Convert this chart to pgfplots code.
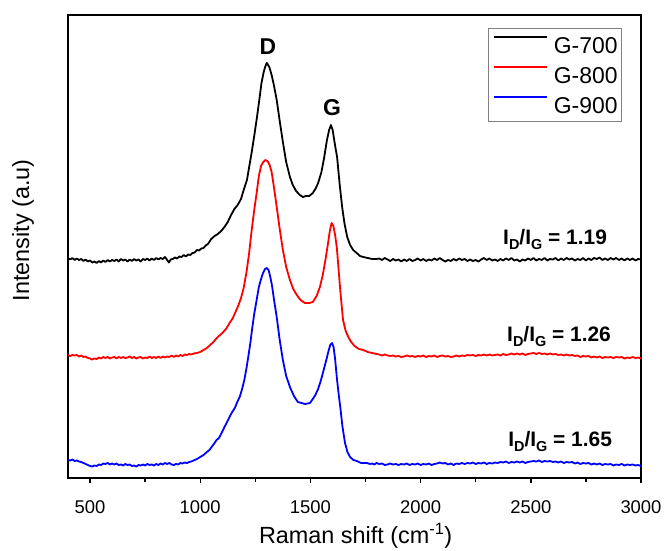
\documentclass[border=0pt]{standalone}
\usepackage{fontspec}
\setmainfont{Liberation Sans}
\usepackage{pgfplots}
\pgfplotsset{compat=1.18}
\definecolor{leggray}{RGB}{128,128,128}
\newcommand\sub[1]{\raisebox{-5bp}{\fontsize{14.5}{14.5}\selectfont #1}}
\begin{document}
\begin{tikzpicture}
\begin{axis}[
  scale only axis, width=573bp, height=463bp,
  xmin=400, xmax=3000, ymin=0, ymax=463,
  axis line style={line width=1.8bp},
  xtick={500,1000,1500,2000,2500,3000},
  xticklabels={500,1000,1500,2000,2500,3000},
  minor x tick num=1,
  xtick pos=bottom, tick align=outside,
  ytick=\empty,
  major tick length=5bp, minor tick length=4bp,
  every tick/.style={black, line width=1.4bp},
  xticklabel style={font=\fontsize{18.5}{20}\selectfont, anchor=base, yshift=-30bp},
  xlabel={Raman shift (cm\textsuperscript{-1})},
  ylabel={Intensity (a.u)},
  xlabel style={font=\fontsize{23.5}{26}\selectfont, at={(axis description cs:0.502,-0.1404)}, anchor=base},
  ylabel style={font=\fontsize{23.5}{26}\selectfont, at={(axis description cs:-0.0785,0.535)}, anchor=center},
  legend style={at={(axis description cs:0.9668,0.972)}, anchor=north east,
    draw=leggray, line width=0.8bp, font=\fontsize{23}{23}\selectfont,
    inner xsep=4bp, inner ysep=8bp, row sep=12.5bp, column sep=6bp,
    nodes={inner sep=0pt, text height=16.5bp, text depth=0bp}, cells={anchor=west}},
  legend image code/.code={\draw[#1,line width=2bp] (0bp,8.25bp) -- (53bp,8.25bp);},
  every axis plot/.append style={line width=1.8bp, line join=round},
]
\coordinate (ll) at (rel axis cs:0,0);
\coordinate (ur) at (rel axis cs:1,1);
\addplot[black] table {
400 220
410 218.5
420 220
430 218
440 219.5
450 218
460 219
470 217
480 218.5
490 216.5
500 217.5
510 215.5
520 216.5
530 215
540 217
550 215.5
560 217.5
570 216
580 218
590 216.5
600 218
610 217
620 218.5
630 216.5
640 219
650 217.5
660 218.5
670 216.5
680 218.5
690 217
700 219
710 217.5
720 218.5
730 216.5
740 219
750 218
760 219.5
770 217.5
780 219.5
790 218
800 220
810 218.5
820 220
830 219
840 221
850 218
858 215.5
866 218.5
875 219
885 220.5
895 219.5
905 221.5
915 221
925 223
935 221.5
945 223.5
955 223
965 225
975 225.5
985 228
995 227.5
1005 229.5
1015 230
1025 232.5
1035 234
1050 239
1065 242
1080 244
1095 247
1110 251
1125 256
1140 263
1155 269
1170 273
1185 279
1200 290
1212 298
1222 311
1233 325
1245 342
1257 360
1268 378
1278 395
1288 406
1296 412
1302 415
1308 413
1315 410
1325 402
1335 392
1347 378
1360 358
1375 336
1390 316
1407 301
1420 293
1435 287
1452 283
1466 281
1480 282
1495 282
1511 285
1525 290
1535 295
1550 306
1562 320
1575 338
1585 348
1593 353
1601 348
1610 335
1621 321
1633 293
1644 271
1655 254
1667 241
1680 233
1694 228
1710 225
1725 222
1740 221
1760 220
1780 219
1800 219
1812 219.5
1825 218
1837 220
1850 218.5
1862 217
1875 219
1887 217.5
1900 218.5
1912 216.5
1925 218.5
1937 217
1950 219
1962 217
1975 218
1987 219.5
2000 217.5
2012 219
2025 217
2037 218.5
2050 217.5
2062 219.5
2075 218
2087 220
2100 218
2112 216.5
2125 218
2137 217
2150 219
2162 217.5
2175 219.5
2187 218
2200 219
2212 217
2225 218.5
2237 217
2250 218
2262 216.5
2275 218.5
2287 220
2300 218
2312 219.5
2325 217.5
2337 218.5
2350 217
2362 219
2375 217.5
2387 219.5
2400 218
2412 220
2425 217.5
2437 218.5
2450 216.5
2462 218.5
2475 217.5
2487 219.5
2500 218
2512 220
2525 217.5
2537 219
2550 218
2562 220
2575 217.5
2587 219
2600 218.5
2612 220
2625 217.5
2637 219.5
2650 218
2662 220
2675 218.5
2687 219.5
2700 217.5
2712 219
2725 218
2737 220
2750 217.5
2762 219.5
2775 218
2787 220
2800 219
2812 220.5
2825 218
2837 219.5
2850 218
2862 220
2875 218.5
2887 220
2900 218
2912 219.5
2925 217.5
2937 219.5
2950 218
2962 219.5
2975 217.5
2987 219
3000 218.5
};
\addlegendentry{G-700}
\addplot[red] table {
400 123
410 122
420 123
430 122.5
440 123
450 121.5
460 122.5
470 121
480 121.5
490 120
500 119.5
510 118.5
520 119.5
530 119
540 120.5
550 119.5
560 121
570 120
580 121
590 119.5
600 120.5
610 121
620 119.5
630 121
640 120
650 121
660 120
670 120.5
680 121.5
690 120
700 121
710 119.5
720 120.5
730 121
740 119.5
750 120.5
760 120
770 121.5
780 120
790 121
800 120
810 121.5
820 120
830 121.5
840 120.5
850 121.5
860 121
870 122.5
880 121
890 122.5
900 121.5
910 123
920 122
930 123.5
940 123
950 124
960 123.5
970 124.5
985 125
1000 126
1015 128
1030 130
1045 133
1060 136
1075 140
1090 143
1105 146
1120 150
1133 155
1148 160
1160 166
1172 172
1185 180
1197 190
1210 206
1222 225
1233 247
1245 268
1256 285
1266 302
1276 312
1286 316
1296 318
1305 317
1315 313
1324 306
1335 290
1347 271
1360 250
1375 228
1390 211
1407 198
1422 189
1438 183
1455 178
1475 175
1495 175
1511 176
1528 182
1543 191
1556 203
1568 218
1578 232
1588 247
1596 255
1604 252
1612 243
1620 230
1628 208
1636 186
1648 158
1660 147
1672 141
1685 136
1700 132
1720 129
1740 128
1760 126
1780 125
1800 124
1812 123.5
1825 122.5
1837 123.5
1850 122.5
1862 122
1875 122.5
1887 121.5
1900 122
1912 121
1925 121.5
1937 122.5
1950 121.5
1962 122
1975 121
1987 122
2000 121.5
2012 122.5
2025 121
2037 122
2050 121.5
2062 122.5
2075 121
2087 122
2100 122.5
2112 121.5
2125 122
2137 121
2150 121.5
2162 122.5
2175 121.5
2187 122.5
2200 122
2212 123
2225 122.5
2237 123
2250 122
2262 123
2275 122.5
2287 123.5
2300 122.5
2312 123.5
2325 122.5
2337 123
2350 123.5
2362 122.5
2375 124
2387 123
2400 123.5
2412 124.5
2425 123.5
2437 124.5
2450 123.5
2462 124.5
2475 123
2487 124
2500 124.5
2512 125
2525 124
2537 125
2550 124
2562 124.5
2575 123.5
2587 124.5
2600 123.5
2612 124
2625 123
2637 123.5
2650 122.5
2662 123.5
2675 122.5
2687 123
2700 122
2712 122.5
2725 121
2737 122
2750 121.5
2762 122
2775 120.5
2787 121.5
2800 120.5
2812 121.5
2825 120
2837 121
2850 120.5
2862 121
2875 120
2887 121
2900 120.5
2912 121
2925 119.5
2937 120.5
2950 120
2962 121
2975 120
2987 120.5
3000 119.5
};
\addlegendentry{G-800}
\addplot[blue] table {
400 18
410 17.5
420 18.5
430 17
440 17.5
450 16.5
460 16
470 15
480 14
490 13
500 12
510 11.5
520 12.5
530 12
540 13.5
550 13
560 14.5
570 14
580 15
590 13.5
600 14.5
610 13.5
620 14.5
630 13
640 13.5
650 12.5
660 14
670 13
680 13.5
690 12
700 12.5
710 11.5
720 13
730 12.5
740 13.5
750 12.5
760 14
770 13
780 13.5
790 12.5
800 14
810 13
820 14.5
830 13.5
840 15
850 14
860 15
870 13.5
880 13
890 14
900 13.5
910 15
920 14.5
930 15.5
940 15
950 16
960 16.5
970 17.5
985 19
1000 21
1015 23
1030 26
1042 28
1055 32
1065 35
1074 38
1085 40
1097 45
1110 51
1122 56
1133 61
1145 66
1157 70
1168 76
1179 81
1190 89
1200 98
1210 110
1220 124
1228 136
1236 150
1245 164
1256 178
1266 191
1276 199
1285 205
1294 209
1302 210
1310 208
1318 201
1326 192
1335 178
1347 161
1360 139
1375 118
1390 102
1407 91
1425 82
1443 76
1460 75
1475 74
1498 75
1520 82
1535 89
1548 98
1560 108
1572 118
1582 127
1590 133
1598 135
1605 131
1612 119
1620 100
1628 84
1636 70
1645 52
1657 35
1668 26
1680 21
1695 18
1710 17
1730 15
1757 15
1770 14
1780 14.5
1790 13.5
1800 15
1812 14
1825 14.5
1837 13
1850 13.5
1862 14.5
1875 13.5
1887 14
1900 13
1912 14
1925 13.5
1937 14.5
1950 13
1962 14
1975 13.5
1987 14.5
2000 13
2012 14
2025 13.5
2037 14.5
2050 13
2062 14
2075 14.5
2087 15.5
2100 14.5
2112 15
2125 13.5
2137 14.5
2150 13
2162 14.5
2175 14
2187 15
2200 14
2212 15
2225 14.5
2237 15.5
2250 14
2262 15
2275 14.5
2287 15.5
2300 14
2312 15
2325 14.5
2337 15.5
2350 15
2362 16
2375 15.5
2387 16.5
2400 15
2412 16
2425 15.5
2437 16.5
2450 15.5
2462 16.5
2475 15
2487 16
2500 16.5
2512 17
2525 16.5
2537 17.5
2550 16
2562 17
2575 16.5
2587 17
2600 16
2612 16.5
2625 15.5
2637 16.5
2650 15
2662 16
2675 15.5
2687 16
2700 14.5
2712 15.5
2725 14
2737 15
2750 14.5
2762 15
2775 13.5
2787 14.5
2800 13.5
2812 14.5
2825 13
2837 14
2850 13.5
2862 14
2875 12.5
2887 13.5
2900 13
2912 14
2925 12.5
2937 13.5
2950 13
2962 13.5
2975 12.5
2987 13
3000 12
};
\addlegendentry{G-900}
\node[font=\bfseries\fontsize{23}{23}\selectfont, inner sep=0pt] at (axis cs:1307,431.5) {D};
\node[font=\bfseries\fontsize{23}{23}\selectfont, inner sep=0pt] at (axis cs:1598,370.5) {G};
\node[font=\bfseries\fontsize{21}{21}\selectfont, inner sep=0pt, anchor=base west] at (axis cs:2374,233) {I\sub{D}/I\sub{G} = 1.19};
\node[font=\bfseries\fontsize{21}{21}\selectfont, inner sep=0pt, anchor=base west] at (axis cs:2392,136) {I\sub{D}/I\sub{G} = 1.26};
\node[font=\bfseries\fontsize{21}{21}\selectfont, inner sep=0pt, anchor=base west] at (axis cs:2397,31) {I\sub{D}/I\sub{G} = 1.65};
\end{axis}
\pgfresetboundingbox
\path[use as bounding box] ([xshift=-68bp,yshift=-73bp]ll) rectangle ([xshift=25bp,yshift=15bp]ur);
\end{tikzpicture}
\end{document}
